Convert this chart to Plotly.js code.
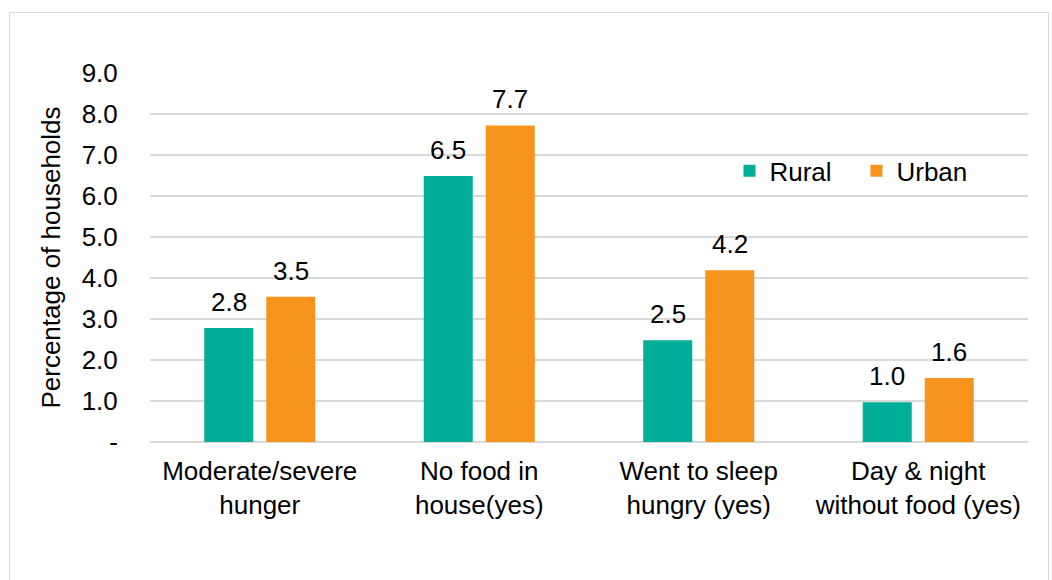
<!DOCTYPE html>
<html>
<head>
<meta charset="utf-8">
<script src="https://cdn.plot.ly/plotly-3.0.1.min.js"></script>
<style>
  html, body { margin: 0; padding: 0; background: #fff; }
  #frame { position: absolute; left: 9px; top: 12px; width: 1040px; height: 580px; border: 1.5px solid #d9d9d9; box-sizing: border-box; }
  #chart { position: absolute; left: 0; top: 0; width: 1052px; height: 580px; }
</style>
</head>
<body>
<div id="frame"></div>
<div id="chart"></div>
<script>
const categories = ["Moderate/severe<br>hunger", "No food in<br>house(yes)", "Went to sleep<br>hungry (yes)", "Day & night<br>without food (yes)"];
const rural = [2.78, 6.49, 2.48, 0.97];
const urban = [3.54, 7.72, 4.19, 1.56];
const tickVals = [0, 1, 2, 3, 4, 5, 6, 7, 8, 9];
const tickText = ["-", "1.0", "2.0", "3.0", "4.0", "5.0", "6.0", "7.0", "8.0", "9.0"];

const FF = "Liberation Sans, Arial, sans-serif";
const FS = 26;

const traces = [
  { type: "bar", name: "Rural", x: categories, y: rural, marker: { color: "#00AE9A" } },
  { type: "bar", name: "Urban", x: categories, y: urban, marker: { color: "#F7941E" } }
];

// value labels above bars, built from the data arrays
const OFFSET = 31; // half the distance between the centres of the two bars in a group (px)
const annotations = [];
categories.forEach((c, i) => {
  [[rural, -OFFSET], [urban, OFFSET]].forEach(([arr, dx]) => {
    annotations.push({ x: c, y: arr[i], xref: "x", yref: "y", text: arr[i].toFixed(1),
      showarrow: false, xanchor: "center", yanchor: "bottom", xshift: dx, yshift: 9,
      font: { family: FF, size: FS, color: "#000" } });
  });
});

const layout = {
  width: 1052, height: 580,
  margin: { l: 150, r: 24, t: 73, b: 138 },
  paper_bgcolor: "rgba(0,0,0,0)", plot_bgcolor: "rgba(0,0,0,0)",
  font: { family: FF, color: "#000", size: FS },
  barmode: "group", bargap: 0.435, bargroupgap: 0.21,
  showlegend: true,
  legend: { orientation: "h", x: 0.66, y: 0.735, xanchor: "left", yanchor: "middle",
            font: { family: FF, size: FS, color: "#000" }, bgcolor: "rgba(0,0,0,0)",
            entrywidth: 82, entrywidthmode: "pixels", tracegroupgap: 0 },
  annotations: annotations,
  xaxis: { showgrid: false, zeroline: false, showline: false, ticks: "outside", ticklen: 6, tickcolor: "rgba(0,0,0,0)",
           tickfont: { family: FF, size: FS, color: "#000" } },
  yaxis: { range: [0, 9], tickvals: tickVals, ticktext: tickText, showgrid: true,
           gridcolor: "#d9d9d9", gridwidth: 1.5, zeroline: true, zerolinecolor: "#d9d9d9", zerolinewidth: 1.5,
           showline: false, ticks: "outside", ticklen: 26, tickcolor: "rgba(0,0,0,0)",
           tickfont: { family: FF, size: FS, color: "#000" },
           title: { text: "Percentage of households", font: { family: FF, size: FS, color: "#000" }, standoff: 13 } }
};

Plotly.newPlot("chart", traces, layout, { displayModeBar: false, staticPlot: true });
</script>
</body>
</html>
